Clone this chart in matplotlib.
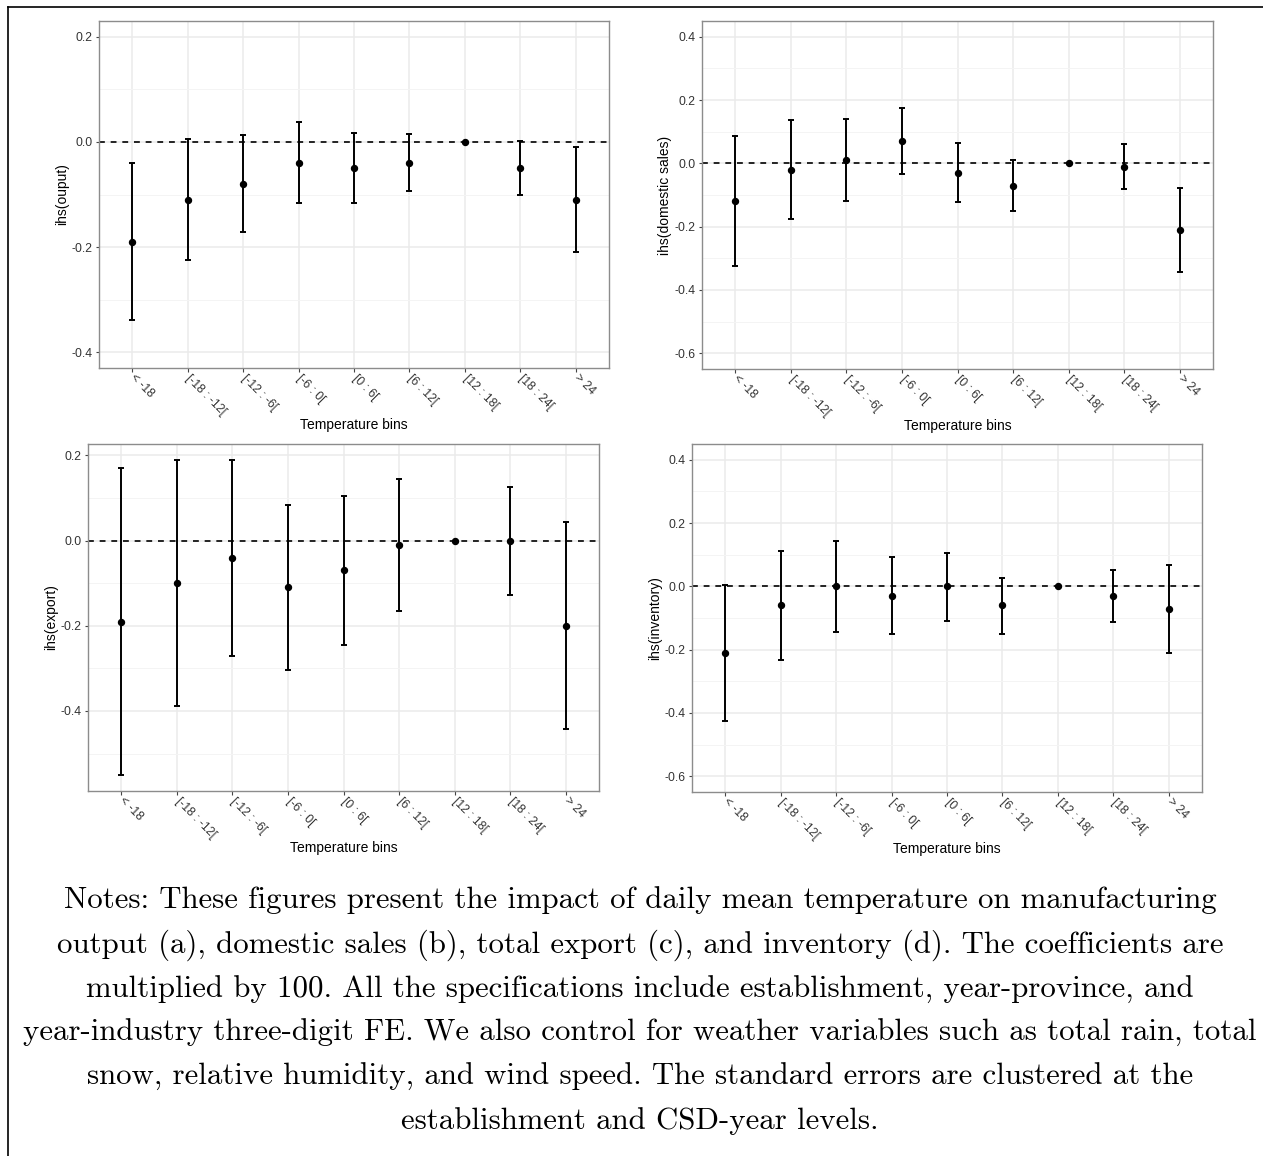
import numpy as np
import matplotlib.pyplot as plt
from matplotlib.lines import Line2D
from matplotlib.ticker import MultipleLocator

plt.rcParams["font.family"] = ["Liberation Sans", "DejaVu Sans"]

# temperature bins on the x axis
bins = ["< -18", "[-18 : -12[", "[-12 : -6[", "[-6 : 0[", "[0 : 6[",
        "[6 : 12[", "[12 : 18[", "[18 : 24[", "> 24"]

# (a) output
output_est = [-0.19, -0.11, -0.08, -0.04, -0.05, -0.04, 0.0, -0.05, -0.11]
output_lo = [-0.339, -0.225, -0.172, -0.116, -0.116, -0.094, 0.0, -0.100, -0.210]
output_hi = [-0.040, 0.006, 0.013, 0.037, 0.017, 0.015, 0.0, 0.002, -0.009]

# (b) domestic sales
domestic_est = [-0.12, -0.02, 0.01, 0.07, -0.03, -0.07, 0.0, -0.01, -0.21]
domestic_lo = [-0.323, -0.176, -0.119, -0.035, -0.123, -0.149, 0.0, -0.080, -0.343]
domestic_hi = [0.085, 0.137, 0.140, 0.176, 0.064, 0.010, 0.0, 0.060, -0.077]

# (c) export
export_est = [-0.19, -0.10, -0.04, -0.11, -0.07, -0.01, 0.0, 0.0, -0.20]
export_lo = [-0.551, -0.388, -0.270, -0.303, -0.244, -0.165, 0.0, -0.127, -0.443]
export_hi = [0.171, 0.189, 0.189, 0.084, 0.104, 0.145, 0.0, 0.127, 0.043]

# (d) inventory
inventory_est = [-0.21, -0.06, 0.0, -0.03, 0.0, -0.06, 0.0, -0.03, -0.07]
inventory_lo = [-0.425, -0.233, -0.143, -0.152, -0.109, -0.149, 0.0, -0.114, -0.210]
inventory_hi = [0.003, 0.112, 0.142, 0.092, 0.106, 0.028, 0.0, 0.052, 0.068]

caption = [
    "Notes: These figures present the impact of daily mean temperature on manufacturing",
    "output (a), domestic sales (b), total export (c), and inventory (d). The coefficients are",
    "multiplied by 100. All the specifications include establishment, year-province, and",
    "year-industry three-digit FE. We also control for weather variables such as total rain, total",
    "snow, relative humidity, and wind speed. The standard errors are clustered at the",
    "establishment and CSD-year levels.",
]

W, H = 1263, 1156
fig = plt.figure(figsize=(W / 100, H / 100), dpi=100)


def px_axes(left, top, right, bottom):
    return fig.add_axes([left / W, 1 - bottom / H, (right - left) / W, (bottom - top) / H])


def coef_panel(ax, est, lo, hi, ylabel, ylim, major, minor):
    x = np.arange(1, len(bins) + 1)
    est = np.array(est)
    yerr = [est - np.array(lo), np.array(hi) - est]
    ax.axhline(0, color="black", lw=1.2, ls=(0, (3.5, 3.5)), zorder=2)
    ax.errorbar(x, est, yerr=yerr, fmt="o", color="black", ms=4.3,
                elinewidth=1.4, capsize=2.3, capthick=1.4, zorder=3)
    ax.set_xlim(0.4, len(bins) + 0.6)
    ax.set_ylim(*ylim)
    ax.set_xticks(x)
    ax.set_xticklabels(bins, rotation=-45, ha="left", va="center",
                       rotation_mode="anchor", fontsize=8.8, color="#333333")
    ax.yaxis.set_major_locator(MultipleLocator(major))
    ax.yaxis.set_minor_locator(MultipleLocator(minor))
    ax.yaxis.set_major_formatter(plt.FuncFormatter(lambda v, p: f"{v:.1f}".replace("-0.0", "0.0")))
    ax.tick_params(axis="y", labelsize=8.8, labelcolor="#333333", length=2.5,
                   color="#444444", pad=2)
    ax.tick_params(axis="y", which="minor", length=0)
    ax.tick_params(axis="x", length=3, color="#444444", pad=3)
    ax.grid(True, which="major", color="#ebebeb", lw=1.1)
    ax.grid(True, which="minor", axis="y", color="#f4f4f4", lw=0.7)
    ax.set_axisbelow(True)
    for s in ax.spines.values():
        s.set_color("#8c8c8c")
        s.set_linewidth(1.0)
    ax.set_xlabel("Temperature bins", fontsize=10, va="top")
    ax.set_ylabel(ylabel, fontsize=10, va="center")
    w = ax.get_position().width * W
    ax.xaxis.set_label_coords(0.5, -50 / (ax.get_position().height * H))
    ax.yaxis.set_label_coords(-37 / w, 0.5)


ax_a = px_axes(99, 21, 609, 368)
coef_panel(ax_a, output_est, output_lo, output_hi, "ihs(ouput)",
           (-0.43, 0.23), 0.2, 0.1)

ax_b = px_axes(702, 21, 1213, 369)
coef_panel(ax_b, domestic_est, domestic_lo, domestic_hi, "ihs(domestic sales)",
           (-0.65, 0.45), 0.2, 0.1)

ax_c = px_axes(88, 444, 599, 791)
coef_panel(ax_c, export_est, export_lo, export_hi, "ihs(export)",
           (-0.588, 0.227), 0.2, 0.1)

ax_d = px_axes(692, 444, 1202, 792)
coef_panel(ax_d, inventory_est, inventory_lo, inventory_hi, "ihs(inventory)",
           (-0.65, 0.45), 0.2, 0.1)

# notes below the panels
line_y = [900, 945, 990, 1033, 1077, 1121]
for txt, yy in zip(caption, line_y):
    fig.text(640 / W, 1 - yy / H, txt, ha="center", va="center",
             fontsize=22.2, family="cmr10")

# frame lines on the top and left edge
fig.add_artist(Line2D([8 / W, 1], [1 - 7 / H, 1 - 7 / H], color="black", lw=1.2))
fig.add_artist(Line2D([8 / W, 8 / W], [0, 1 - 7 / H], color="black", lw=1.2))

fig.savefig("out.png", dpi=100)
